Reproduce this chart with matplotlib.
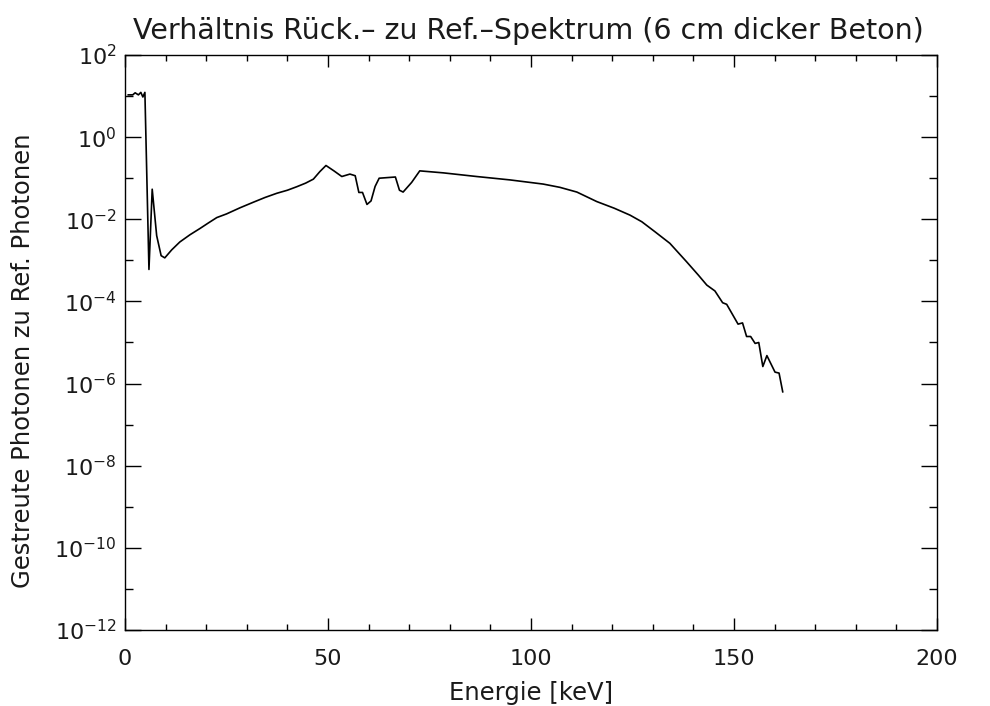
import numpy as np
from matplotlib import pyplot as plt
from matplotlib.ticker import FixedLocator, MultipleLocator, NullFormatter

# Energie [keV] und Verhaeltnis Rueck-/Ref.-Spektrum
energy = [
    0.8, 1.9, 2.5, 3.3, 3.9, 4.4, 4.9, 5.9, 6.7, 7.8, 8.9, 9.8, 11.5, 13.5,
    16.0, 18.5, 20.5, 22.6, 25.0, 28.3, 31.6, 34.5, 37.4, 40.0, 42.3, 44.5,
    46.4, 48.0, 49.5, 51.5, 53.4, 55.4, 56.7, 57.6, 58.5, 59.6, 60.6, 61.6,
    62.6, 66.6, 67.6, 68.5, 70.6, 72.6, 78.4, 86.6, 94.8, 103.0, 107.1,
    111.3, 116.2, 120.5, 124.4, 127.3, 130.5, 134.2, 138.3, 141.2, 143.3,
    145.3, 147.2, 148.2, 151.0, 152.1, 153.1, 154.1, 155.2, 156.1, 157.1,
    158.1, 160.1, 161.1, 162.0,
]
ratio = [
    10.7, 10.7, 12.0, 10.7, 12.3, 9.5, 12.3, 6.0e-4, 5.4e-2, 4.0e-3, 1.3e-3,
    1.15e-3, 1.8e-3, 2.8e-3, 4.2e-3, 6.0e-3, 8.1e-3, 1.1e-2, 1.35e-2,
    1.9e-2, 2.6e-2, 3.4e-2, 4.3e-2, 5.1e-2, 6.2e-2, 7.6e-2, 9.5e-2, 0.145,
    0.204, 0.15, 0.11, 0.126, 0.115, 0.045, 0.045, 0.023, 0.028, 0.063, 0.1,
    0.107, 0.051, 0.046, 0.079, 0.151, 0.135, 0.11, 0.091, 0.072, 0.060,
    0.046, 0.027, 0.0186, 0.0126, 8.7e-3, 5.0e-3, 2.6e-3, 9.3e-4, 4.4e-4,
    2.5e-4, 1.8e-4, 9.3e-5, 8.5e-5, 2.8e-5, 3.0e-5, 1.4e-5, 1.4e-5, 9.5e-6,
    1.0e-5, 2.6e-6, 4.8e-6, 1.9e-6, 1.8e-6, 6.3e-7,
]

x_ticks = [0, 50, 100, 150, 200]
y_major_exp = [2, 0, -2, -4, -6, -8, -10, -12]
y_minor_exp = [1, -1, -3, -5, -7, -9, -11]

title = "Verhältnis Rück.– zu Ref.–Spektrum (6 cm dicker Beton)"
x_label = "Energie [keV]"
y_label = "Gestreute Photonen zu Ref. Photonen"

plt.rcParams["font.family"] = ["DejaVu Sans"]
text_color = "#1a1a1a"

fig = plt.figure(figsize=(9.9, 7.06), dpi=100)
ax = fig.add_axes([125 / 990, 76 / 706, 812 / 990, 575 / 706])

ax.plot(energy, ratio, color="black", linewidth=1.2)

ax.set_yscale("log")
ax.set_xlim(0, 200)
ax.set_ylim(1e-12, 1e2)

ax.xaxis.set_major_locator(FixedLocator(x_ticks))
ax.xaxis.set_minor_locator(MultipleLocator(10))
ax.set_xticklabels([str(t) for t in x_ticks])

ax.yaxis.set_major_locator(FixedLocator([10.0 ** e for e in y_major_exp]))
ax.yaxis.set_minor_locator(FixedLocator([10.0 ** e for e in y_minor_exp]))
ax.yaxis.set_minor_formatter(NullFormatter())
ax.set_yticklabels([f"$\\mathregular{{10^{{{e}}}}}$" for e in y_major_exp])

ax.tick_params(which="both", direction="in", top=True, right=True,
               width=1.0, labelsize=16, color="black", labelcolor=text_color)
ax.tick_params(axis="x", which="major", length=8.4, pad=14)
ax.tick_params(axis="x", which="minor", length=4.1)
ax.tick_params(axis="y", which="major", length=11.5, pad=6)
ax.tick_params(axis="y", which="minor", length=5.8)

for spine in ax.spines.values():
    spine.set_linewidth(1.0)

ax.set_xlabel(x_label, fontsize=17.5, color=text_color, labelpad=8)
ax.set_ylabel(y_label, fontsize=17.5, color=text_color)
ax.yaxis.set_label_coords(-0.111, 0.468)

fig.text(528 / 990, 1 - 39 / 706, title, fontsize=20.5, color=text_color,
         ha="center", va="baseline")

fig.savefig("out.png", dpi=100, facecolor="white")
